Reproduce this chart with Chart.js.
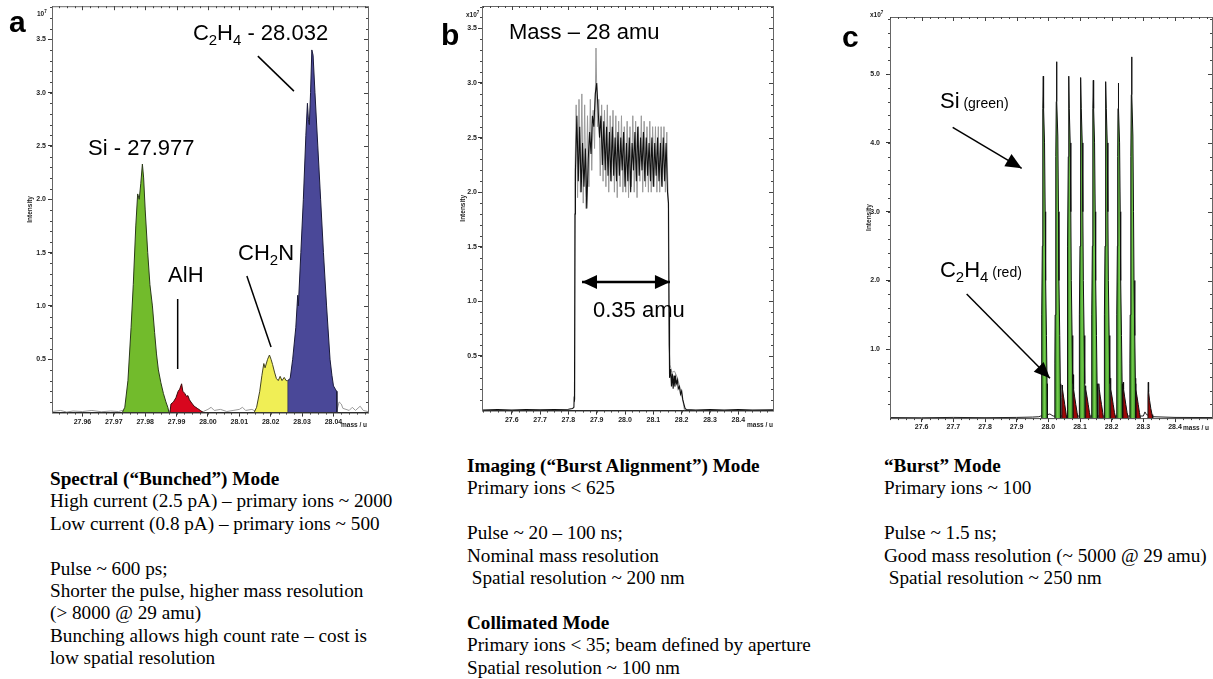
<!DOCTYPE html>
<html>
<head>
<meta charset="utf-8">
<script src="https://cdn.jsdelivr.net/npm/chart.js@4.4.1/dist/chart.umd.min.js"></script>
<style>
  body { margin: 0; width: 1213px; height: 679px; background: #fff; position: relative; overflow: hidden; }
  canvas { position: absolute; top: 0; }
  .tag { position: absolute; font: bold 30px/30px "Liberation Sans", Arial, sans-serif; color: #000; }
  .notes { position: absolute; font: 19.2px/22.4px "Liberation Serif", "Times New Roman", serif; white-space: pre; color: #000; }
</style>
</head>
<body>
<canvas id="chartA" style="left:0px" width="380" height="440"></canvas>
<canvas id="chartB" style="left:430px" width="355" height="440"></canvas>
<canvas id="chartC" style="left:830px" width="383" height="440"></canvas>

<div class="tag" style="left:9px;top:7px">a</div>
<div class="tag" style="left:441px;top:20px">b</div>
<div class="tag" style="left:842px;top:22px">c</div>

<div class="notes" style="left:50px;top:468px"><b>Spectral (“Bunched”) Mode</b>
High current (2.5 pA) – primary ions ~ 2000
Low current (0.8 pA) – primary ions ~ 500

Pulse ~ 600 ps;
Shorter the pulse, higher mass resolution
(&gt; 8000 @ 29 amu)
Bunching allows high count rate – cost is
low spatial resolution</div>

<div class="notes" style="left:467px;top:455px"><b>Imaging (“Burst Alignment”) Mode</b>
Primary ions &lt; 625

Pulse ~ 20 – 100 ns;
Nominal mass resolution
 Spatial resolution ~ 200 nm

<b>Collimated Mode</b>
Primary ions &lt; 35; beam defined by aperture
Spatial resolution ~ 100 nm</div>

<div class="notes" style="left:884px;top:455px"><b>“Burst” Mode</b>
Primary ions ~ 100

Pulse ~ 1.5 ns;
Good mass resolution (~ 5000 @ 29 amu)
 Spatial resolution ~ 250 nm</div>

<script>
// ---------- panel a : spectral (bunched) mode, intensity x10^7 vs mass/u ----------
const aXTicks = [27.96, 27.97, 27.98, 27.99, 28.00, 28.01, 28.02, 28.03, 28.04];
const aYTicks = [0.5, 1.0, 1.5, 2.0, 2.5, 3.0, 3.5];

const aSi = [[27.9727,0],[27.9735,0.05],[27.9745,0.3],[27.9755,0.8],[27.9762,1.2],[27.9770,1.75],
  [27.9776,2.05],[27.9781,2.0],[27.9786,2.15],[27.9791,2.33],[27.9795,2.2],[27.9800,1.9],[27.9808,1.5],
  [27.9815,1.2],[27.9823,1.0],[27.9830,0.75],[27.9836,0.55],[27.9842,0.4],[27.9850,0.28],[27.9858,0.18],
  [27.9866,0.1],[27.9872,0.05],[27.9876,0]];
const aAlH = [[27.9879,0],[27.9882,0.08],[27.9890,0.1],[27.9898,0.14],[27.9905,0.2],[27.9910,0.22],
  [27.9916,0.27],[27.9920,0.2],[27.9926,0.18],[27.9932,0.15],[27.9936,0.16],[27.9941,0.12],[27.9948,0.09],
  [27.9956,0.06],[27.9966,0.04],[27.9976,0.02],[27.9985,0]];
const aCH2N = [[28.0147,0],[28.0155,0.05],[28.0165,0.2],[28.0172,0.35],[28.0178,0.46],[28.0182,0.42],
  [28.0190,0.5],[28.0196,0.54],[28.0201,0.5],[28.0206,0.45],[28.0212,0.38],[28.0218,0.32],[28.0224,0.3],
  [28.0230,0.34],[28.0236,0.3],[28.0243,0.33],[28.0249,0.3],[28.0254,0.3]];
const aC2H4 = [[28.0254,0],[28.0254,0.3],[28.0262,0.32],[28.0270,0.5],[28.0280,0.8],[28.0286,1.1],
  [28.0288,1.0],[28.0296,1.5],[28.0304,2.0],[28.0312,2.6],[28.0317,2.9],[28.0320,2.75],[28.0323,2.7],
  [28.0327,3.0],[28.0331,3.4],[28.0335,3.35],[28.0341,3.0],[28.0350,2.5],[28.0359,2.0],[28.0368,1.5],
  [28.0378,1.0],[28.0389,0.5],[28.0395,0.35],[28.0400,0.25],[28.0406,0.22],[28.0410,0.2],[28.0411,0]];
const aNoise = [[27.9503,0.01],[27.953,0.02],[27.955,0.005],[27.957,0.015],[27.960,0.01],[27.963,0.02],
  [27.966,0.008],[27.969,0.015],[27.9715,0.01],[27.9727,0.02],[27.9985,0.01],[28.000,0.03],[28.001,0.05],
  [28.002,0.02],[28.004,0.03],[28.006,0.01],[28.008,0.02],[28.010,0.03],[28.011,0.05],[28.012,0.02],
  [28.014,0.03],[28.0147,0.02],[28.0411,0.02],[28.0418,0.1],[28.0425,0.08],[28.043,0.04],[28.045,0.02],
  [28.046,0.05],[28.047,0.02],[28.0485,0.06],[28.0495,0.02],[28.051,0.01]];

// ---------- panel b : imaging (burst alignment) mode ----------
const bXTicks = [27.6, 27.7, 27.8, 27.9, 28.0, 28.1, 28.2, 28.3, 28.4];
const bYTicks = [0.5, 1.0, 1.5, 2.0, 2.5, 3.0, 3.5];

const bBlack = [[27.495,0.005],[27.55,0.01],[27.60,0.005],[27.65,0.01],[27.70,0.008],[27.75,0.01],
  [27.80,0.012],[27.815,0.02],[27.8195,0.03],[27.8205,0.13],[27.8215,0.08],[27.8235,1.8],[27.825,2.2],
  [27.830,2.7],[27.835,2.1],[27.840,2.6],[27.845,2.0],[27.850,2.45],[27.855,2.05],[27.860,2.4],
  [27.865,1.85],[27.870,2.3],[27.875,2.55],[27.880,2.35],[27.885,2.7],[27.890,2.6],[27.895,2.9],
  [27.900,3.0],[27.905,2.75],[27.910,2.5],[27.915,2.7],[27.920,2.25],[27.925,2.65],[27.930,2.2],
  [27.935,2.6],[27.940,2.15],[27.945,2.55],[27.950,2.1],[27.955,2.6],[27.960,2.15],[27.965,2.5],
  [27.970,2.1],[27.975,2.55],[27.980,2.15],[27.985,2.5],[27.990,2.2],[27.995,2.55],[28.000,2.05],
  [28.005,2.45],[28.010,2.1],[28.015,2.5],[28.020,2.0],[28.025,2.45],[28.030,2.2],[28.035,2.55],
  [28.040,2.1],[28.045,2.6],[28.050,2.15],[28.055,2.5],[28.060,2.2],[28.065,2.55],[28.070,2.1],
  [28.075,2.5],[28.080,2.15],[28.085,2.45],[28.090,2.1],[28.095,2.5],[28.100,2.05],[28.105,2.45],
  [28.110,2.15],[28.115,2.5],[28.120,2.1],[28.125,2.45],[28.130,2.05],[28.135,2.5],[28.140,2.1],
  [28.145,2.45],[28.150,2.0],[28.1535,1.9],[28.1555,0.9],[28.1565,0.5],[28.158,0.3],[28.161,0.38],
  [28.164,0.22],[28.167,0.34],[28.170,0.2],[28.173,0.32],[28.176,0.22],[28.179,0.3],[28.182,0.25],
  [28.185,0.28],[28.188,0.2],[28.192,0.22],[28.196,0.15],[28.200,0.18],[28.204,0.1],[28.208,0.06],
  [28.212,0.02],[28.216,0.01],[28.25,0.005],[28.30,0.01],[28.35,0.005],[28.40,0.01],[28.45,0.005],
  [28.5225,0.008]];
const bGray = [[27.8215,0.1],[27.823,2.1],[27.8275,2.8],[27.8325,1.95],[27.8375,2.85],[27.8425,2.0],
  [27.8475,2.9],[27.8525,1.9],[27.8575,2.8],[27.8625,1.85],[27.8675,2.7],[27.8725,2.05],[27.8775,2.85],
  [27.8825,2.2],[27.8875,2.75],[27.8925,2.4],[27.8975,3.32],[27.9025,2.6],[27.9075,2.85],[27.9125,2.15],
  [27.9175,2.8],[27.9225,2.1],[27.9275,2.75],[27.9325,2.05],[27.9375,2.8],[27.9425,2.0],[27.9475,2.7],
  [27.9525,2.1],[27.9575,2.75],[27.9625,2.0],[27.9675,2.7],[27.9725,1.95],[27.9775,2.65],[27.9825,2.05],
  [27.9875,2.7],[27.9925,2.0],[27.9975,2.6],[28.0025,2.0],[28.0075,2.65],[28.0125,1.95],[28.0175,2.6],
  [28.0225,2.05],[28.0275,2.7],[28.0325,2.0],[28.0375,2.65],[28.0425,1.95],[28.0475,2.6],[28.0525,2.1],
  [28.0575,2.7],[28.0625,2.0],[28.0675,2.65],[28.0725,2.05],[28.0775,2.6],[28.0825,2.0],[28.0875,2.65],
  [28.0925,2.0],[28.0975,2.6],[28.1025,2.05],[28.1075,2.6],[28.1125,2.0],[28.1175,2.6],[28.1225,2.0],
  [28.1275,2.6],[28.1325,2.05],[28.1375,2.6],[28.1425,2.0],[28.1475,2.55],[28.1525,1.9],[28.1555,0.6],
  [28.159,0.42],[28.165,0.35],[28.175,0.36],[28.185,0.3],[28.195,0.2],[28.205,0.08],[28.21,0]];

// ---------- panel c : burst mode ----------
const cXTicks = [27.6, 27.7, 27.8, 27.9, 28.0, 28.1, 28.2, 28.3, 28.4];
const cYTicks = [1.0, 2.0, 3.0, 4.0, 5.0];

const cSiPeaks = [
  [[27.978,0],[27.9785,0.8],[27.9795,1.5],[27.981,2.5],[27.982,3.8],[27.983,4.5],[27.984,4.97],[27.985,4.5],[27.988,4.0],[27.990,3.0],[27.9915,2.0],[27.994,1.2],[27.996,0.5],[27.997,0]],
  [[28.020,0],[28.0205,0.8],[28.0215,1.5],[28.023,2.5],[28.024,3.8],[28.025,4.6],[28.026,5.18],[28.027,4.6],[28.030,4.1],[28.032,3.0],[28.0335,2.0],[28.036,1.2],[28.038,0.5],[28.039,0]],
  [[28.059,0],[28.0595,0.8],[28.0605,1.5],[28.062,2.5],[28.063,3.8],[28.064,4.5],[28.065,4.97],[28.066,4.5],[28.069,4.0],[28.071,3.0],[28.0725,2.0],[28.075,1.2],[28.077,0.5],[28.078,0]],
  [[28.097,0],[28.0975,0.8],[28.0985,1.5],[28.100,2.5],[28.101,3.8],[28.102,4.5],[28.103,4.95],[28.104,4.5],[28.107,4.0],[28.109,3.0],[28.1105,2.0],[28.113,1.2],[28.115,0.5],[28.116,0]],
  [[28.136,0],[28.1365,0.8],[28.1375,1.5],[28.139,2.5],[28.140,3.8],[28.141,4.5],[28.142,4.91],[28.143,4.5],[28.146,4.0],[28.148,3.0],[28.1495,2.0],[28.152,1.2],[28.154,0.5],[28.155,0]],
  [[28.176,0],[28.1765,0.8],[28.1775,1.5],[28.179,2.5],[28.180,3.8],[28.181,4.5],[28.182,4.89],[28.183,4.5],[28.186,4.0],[28.188,3.0],[28.1895,2.0],[28.192,1.2],[28.194,0.5],[28.195,0]],
  [[28.215,0],[28.2155,0.8],[28.2165,1.5],[28.218,2.5],[28.219,3.8],[28.220,4.5],[28.221,4.87],[28.222,4.5],[28.225,4.0],[28.227,3.0],[28.2285,2.0],[28.231,1.2],[28.233,0.5],[28.234,0]],
  [[28.257,0],[28.2575,0.8],[28.2585,1.5],[28.260,2.5],[28.261,3.8],[28.262,4.7],[28.263,5.25],[28.264,4.7],[28.267,4.1],[28.269,3.0],[28.2705,2.0],[28.273,1.2],[28.275,0.5],[28.276,0]]
];
const cC2H4Peaks = [
  [[28.0417,0],[28.0427,0.3],[28.0437,0.48],[28.0447,0.42],[28.0477,0.32],[28.0517,0.2],[28.0557,0.08],[28.0577,0]],
  [[28.0767,0],[28.0777,0.35],[28.0787,0.63],[28.0797,0.42],[28.0827,0.32],[28.0867,0.2],[28.0907,0.08],[28.0937,0]],
  [[28.1158,0],[28.1168,0.3],[28.1178,0.47],[28.1188,0.42],[28.1218,0.32],[28.1258,0.2],[28.1298,0.08],[28.1328,0]],
  [[28.1578,0],[28.1588,0.32],[28.1598,0.50],[28.1608,0.42],[28.1638,0.32],[28.1678,0.2],[28.1718,0.08],[28.1738,0]],
  [[28.1948,0],[28.1958,0.33],[28.1968,0.58],[28.1978,0.42],[28.2008,0.32],[28.2048,0.2],[28.2088,0.08],[28.2128,0]],
  [[28.2346,0],[28.2356,0.32],[28.2366,0.52],[28.2376,0.42],[28.2406,0.32],[28.2446,0.2],[28.2486,0.08],[28.2526,0]],
  [[28.2738,0],[28.2748,0.33],[28.2758,0.58],[28.2768,0.42],[28.2798,0.32],[28.2838,0.2],[28.2878,0.08],[28.2908,0]],
  [[28.3136,0],[28.3146,0.32],[28.3156,0.52],[28.3166,0.38],[28.3196,0.26],[28.3236,0.14],[28.3276,0.05],[28.3296,0]]
];
const cBase = [[27.50,0.008],[27.60,0.005],[27.70,0.01],[27.80,0.006],[27.90,0.01],[27.95,0.015],
  [27.970,0.02],[27.976,0.03],[27.997,0.05],[28.005,0.06],[28.015,0.03],[28.30,0.03],[28.305,0.09],
  [28.310,0.05],[28.33,0.02],[28.40,0.01],[28.5168,0.008]];

const pts = arr => arr.map(([x, y]) => ({ x, y }));
const tickFont = { family: '"Liberation Sans", Arial, sans-serif', size: 7, weight: 'bold' };

function drawRich(ctx, x, y, text, size, small) {
  let cx = x;
  text.split(/(_\d)/).filter(s => s).forEach(s => {
    const sub = s[0] === '_';
    const t = sub ? s.slice(1) : s;
    ctx.font = (sub ? size * 0.68 : size) + 'px "Liberation Sans", Arial, sans-serif';
    ctx.fillText(t, cx, sub ? y + size * 0.22 : y);
    cx += ctx.measureText(t).width;
  });
  if (small) {
    ctx.font = small.size + 'px "Liberation Sans", Arial, sans-serif';
    ctx.fillText(small.t, cx, y);
  }
}

function arrowHead(ctx, x1, y1, x2, y2, len, half) {
  const a = Math.atan2(y2 - y1, x2 - x1);
  ctx.beginPath();
  ctx.moveTo(x2, y2);
  ctx.lineTo(x2 - len * Math.cos(a) + half * Math.sin(a), y2 - len * Math.sin(a) - half * Math.cos(a));
  ctx.lineTo(x2 - len * Math.cos(a) - half * Math.sin(a), y2 - len * Math.sin(a) + half * Math.cos(a));
  ctx.closePath();
  ctx.fill();
}

// box, minor ticks, small axis texts
const framePlugin = {
  id: 'frame',
  afterDatasetsDraw(chart, args, o) {
    const { ctx, chartArea: a, scales: { x, y } } = chart;
    ctx.save();
    ctx.strokeStyle = '#666';
    ctx.lineWidth = 1;
    ctx.strokeRect(a.left + 0.5, a.top + 0.5, a.right - a.left, a.bottom - a.top);
    ctx.strokeStyle = '#444';
    ctx.beginPath();
    for (let v = Math.ceil(x.min / o.xMinor) * o.xMinor; v <= x.max; v += o.xMinor) {
      const px = Math.round(x.getPixelForValue(v)) + 0.5;
      ctx.moveTo(px, a.top); ctx.lineTo(px, a.top + 2);
      ctx.moveTo(px, a.bottom); ctx.lineTo(px, a.bottom + 2);
    }
    for (let v = o.yMinor; v <= y.max; v += o.yMinor) {
      const py = Math.round(y.getPixelForValue(v)) + 0.5;
      ctx.moveTo(a.left - 2, py); ctx.lineTo(a.left, py);
      ctx.moveTo(a.right, py); ctx.lineTo(a.right - 2, py);
    }
    x.ticks.forEach(t => {
      const px = Math.round(x.getPixelForValue(t.value)) + 0.5;
      ctx.moveTo(px, a.top); ctx.lineTo(px, a.top + 4);
    });
    y.ticks.forEach(t => {
      const py = Math.round(y.getPixelForValue(t.value)) + 0.5;
      ctx.moveTo(a.right, py); ctx.lineTo(a.right - 4, py);
    });
    ctx.stroke();

    ctx.fillStyle = '#222';
    ctx.font = 'bold 6.5px "Liberation Sans", Arial, sans-serif';
    ctx.textBaseline = 'middle';
    ctx.textAlign = 'left';
    ctx.fillText(o.unit, o.unitAt[0], o.unitAt[1]);
    const uw = ctx.measureText(o.unit).width;
    ctx.font = 'bold 4.5px "Liberation Sans", Arial, sans-serif';
    ctx.fillText('7', o.unitAt[0] + uw, o.unitAt[1] - 2.5);
    ctx.font = 'bold 6.5px "Liberation Sans", Arial, sans-serif';
    ctx.fillText('mass / u', o.massAt[0], o.massAt[1]);
    ctx.translate(o.titleX, (a.top + a.bottom) / 2);
    ctx.rotate(-Math.PI / 2);
    ctx.textAlign = 'center';
    ctx.fillText('Intensity', 0, 0);
    ctx.restore();
  }
};

// labels and leader lines, placed in data coordinates
const notesPlugin = {
  id: 'notes',
  afterDraw(chart, args, o) {
    const { ctx, scales: { x, y } } = chart;
    ctx.save();
    ctx.fillStyle = '#000';
    ctx.strokeStyle = '#000';
    ctx.textBaseline = 'alphabetic';
    ctx.textAlign = 'left';
    (o.lines || []).forEach(l => {
      const x1 = x.getPixelForValue(l.from[0]), y1 = y.getPixelForValue(l.from[1]);
      const x2 = x.getPixelForValue(l.to[0]), y2 = y.getPixelForValue(l.to[1]);
      ctx.lineWidth = l.width;
      ctx.beginPath();
      ctx.moveTo(x1, y1);
      ctx.lineTo(x2, y2);
      ctx.stroke();
      if (l.head) arrowHead(ctx, x1, y1, x2, y2, l.head[0], l.head[1]);
      if (l.head && l.both) arrowHead(ctx, x2, y2, x1, y1, l.head[0], l.head[1]);
    });
    (o.texts || []).forEach(t => {
      drawRich(ctx, x.getPixelForValue(t.at[0]), y.getPixelForValue(t.at[1]), t.text, 22, t.small);
    });
    ctx.restore();
  }
};

function makePanel(id, p) {
  return new Chart(document.getElementById(id), {
    type: 'line',
    data: { datasets: p.datasets },
    options: {
      responsive: false,
      animation: false,
      events: [],
      layout: { padding: { top: p.top, right: p.right, left: 0, bottom: 0 } },
      elements: { point: { radius: 0 }, line: { tension: 0, borderWidth: 1 } },
      plugins: {
        legend: { display: false },
        tooltip: { enabled: false },
        frame: p.frame,
        notes: p.notes
      },
      scales: {
        x: {
          type: 'linear', min: p.xMin, max: p.xMax,
          afterFit: s => { s.height = p.xHeight; },
          afterBuildTicks: s => { s.ticks = p.xTicks.map(v => ({ value: v })); },
          border: { color: '#000', width: 1 },
          grid: { drawOnChartArea: false, tickLength: 4, color: '#333' },
          ticks: { font: tickFont, color: '#222', padding: 1, maxRotation: 0, autoSkip: false,
                   callback: v => v.toFixed(p.xDigits) }
        },
        y: {
          type: 'linear', min: 0, max: p.yMax,
          afterFit: s => { s.width = p.yWidth; },
          afterBuildTicks: s => { s.ticks = p.yTicks.map(v => ({ value: v })); },
          border: { color: '#444', width: 1 },
          grid: { drawOnChartArea: false, tickLength: 4, color: '#333' },
          ticks: { font: tickFont, color: '#222', padding: p.yPad, autoSkip: false,
                   callback: v => v.toFixed(1) }
        }
      }
    },
    plugins: [framePlugin, notesPlugin]
  });
}

const fillSet = (data, color, edge) => ({ data: pts(data), backgroundColor: color, borderColor: edge, borderWidth: 1, fill: 'origin' });
const lineSet = (data, color, w) => ({ data: pts(data), borderColor: color, borderWidth: w, fill: false });

// green columns in c are lit in the middle, darker at the edges
function columnShade(pk) {
  return c => {
    const chart = c.chart;
    if (!chart.chartArea) return '#3f9f26';
    const xs = chart.scales.x;
    const l = xs.getPixelForValue(pk[0][0]);
    const r = xs.getPixelForValue(pk[pk.length - 1][0]);
    const g = chart.ctx.createLinearGradient(l, 0, r, 0);
    g.addColorStop(0, '#1e7014');
    g.addColorStop(0.5, '#76d04e');
    g.addColorStop(1, '#2f8a1c');
    return g;
  };
}

makePanel('chartA', {
  datasets: [
    fillSet(aSi, '#72bb2c', '#2b3a1a'),
    fillSet(aAlH, '#d8061e', '#3a0a0a'),
    fillSet(aCH2N, '#f0ee55', '#444422'),
    fillSet(aC2H4, '#4a4898', '#1a1a3a'),
    lineSet(aNoise, '#999', 1)
  ],
  xMin: 27.9503, xMax: 28.0510, xTicks: aXTicks, xDigits: 2, xHeight: 27.4,
  yMax: 3.81, yTicks: aYTicks, yWidth: 52, yPad: 2,
  top: 6, right: 12,
  frame: { xMinor: 0.0025, yMinor: 0.1, unit: '10', unitAt: [37, 14], massAt: [341, 425], titleX: 30 },
  notes: {
    texts: [
      { at: [27.9618, 2.414], text: 'Si - 27.977' },
      { at: [27.9952, 3.494], text: 'C_2H_4 - 28.032' },
      { at: [27.9873, 1.224], text: 'AlH' },
      { at: [28.0096, 1.430], text: 'CH_2N' }
    ],
    lines: [
      { from: [28.0159, 3.342], to: [28.0274, 3.014], width: 1.5 },
      { from: [27.99035, 1.065], to: [27.99035, 0.409], width: 1.5 },
      { from: [28.0124, 1.280], to: [28.0201, 0.615], width: 1.5 }
    ]
  }
});

makePanel('chartB', {
  datasets: [
    lineSet(bBlack, '#111', 1.1),
    lineSet(bGray, '#9a9a9a', 1)
  ],
  xMin: 27.495, xMax: 28.5225, xTicks: bXTicks, xDigits: 1, xHeight: 29.4,
  yMax: 3.705, yTicks: bYTicks, yWidth: 52, yPad: 1,
  top: 6, right: 12,
  frame: { xMinor: 0.025, yMinor: 0.1, unit: 'x10', unitAt: [36, 15], massAt: [317, 425], titleX: 33 },
  notes: {
    texts: [
      { at: [27.5905, 3.403], text: 'Mass – 28 amu' },
      { at: [27.887, 0.857], text: '0.35 amu' }
    ],
    lines: [
      { from: [27.8481, 1.178], to: [28.1587, 1.178], width: 2.5, head: [15, 7], both: true }
    ]
  }
});

const cSets = [];
cSiPeaks.forEach(pk => cSets.push({ data: pts(pk), backgroundColor: columnShade(pk), borderColor: '#111', borderWidth: 1, fill: 'origin' }));
cC2H4Peaks.forEach(pk => cSets.push(fillSet(pk, '#9c0808', '#111')));
cSets.push(lineSet(cBase, '#222', 1));

makePanel('chartC', {
  datasets: cSets,
  xMin: 27.50, xMax: 28.5168, xTicks: cXTicks, xDigits: 1, xHeight: 21.9,
  yMax: 5.83, yTicks: cYTicks, yWidth: 60, yPad: 6,
  top: 17, right: 1,
  frame: { xMinor: 0.025, yMinor: 0.2, unit: 'x10', unitAt: [40, 15], massAt: [353, 428], titleX: 39 },
  notes: {
    texts: [
      { at: [27.6578, 4.507], text: 'Si', small: { t: ' (green)', size: 14 } },
      { at: [27.6578, 2.051], text: 'C_2H_4', small: { t: ' (red)', size: 14 } }
    ],
    lines: [
      { from: [27.6979, 4.227], to: [27.9158, 3.631], width: 1.5, head: [16, 7] },
      { from: [27.7421, 1.804], to: [28.0051, 0.578], width: 1.5, head: [16, 7] }
    ]
  }
});
</script>
</body>
</html>
